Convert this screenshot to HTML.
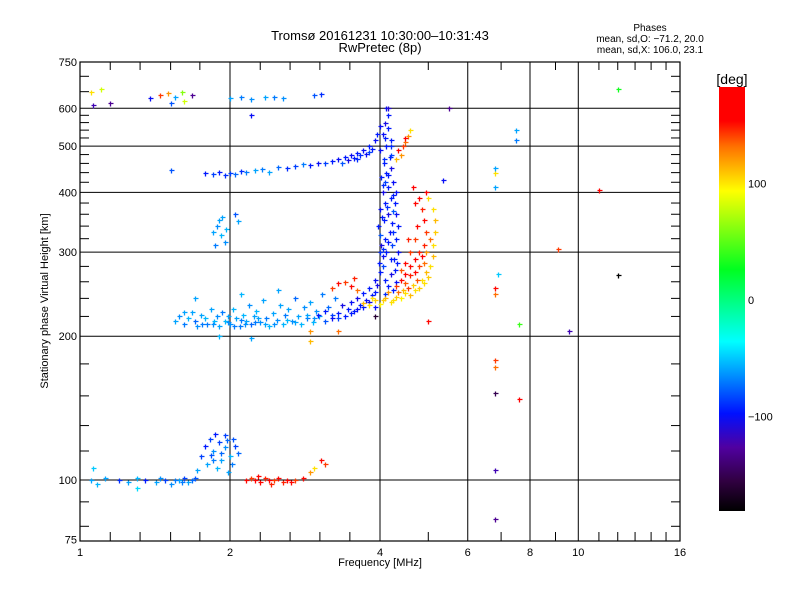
<!DOCTYPE html>
<html><head><meta charset="utf-8"><style>
body{margin:0;background:#fff}
svg{display:block;font-family:"Liberation Sans",sans-serif}
</style></head><body>
<svg id="c" width="800" height="600" viewBox="0 0 800 600">
<defs><linearGradient id="cb" x1="0" y1="0" x2="0" y2="1">
<stop offset="0" stop-color="#ff0000"/><stop offset="0.08" stop-color="#ff0000"/>
<stop offset="0.14" stop-color="#ff7000"/><stop offset="0.245" stop-color="#ffff00"/>
<stop offset="0.43" stop-color="#00ff20"/><stop offset="0.6" stop-color="#00ffff"/>
<stop offset="0.68" stop-color="#0090ff"/><stop offset="0.77" stop-color="#0010ff"/>
<stop offset="0.85" stop-color="#5000a0"/><stop offset="0.93" stop-color="#300040"/>
<stop offset="1" stop-color="#000000"/></linearGradient></defs>
<text x="380" y="40" font-size="13" text-anchor="middle">Tromsø 20161231 10:30:00–10:31:43</text>
<text x="380" y="52" font-size="13" text-anchor="middle">RwPretec (8p)</text>
<text x="650" y="31" font-size="10" text-anchor="middle">Phases</text>
<text x="650" y="42" font-size="10" text-anchor="middle">mean, sd,O: −71.2, 20.0</text>
<text x="650" y="53" font-size="10" text-anchor="middle">mean, sd,X: 106.0, 23.1</text>
<text x="380" y="566" font-size="11" text-anchor="middle">Frequency [MHz]</text>
<text transform="translate(48,301) rotate(-90)" font-size="11" text-anchor="middle">Stationary phase Virtual Height [km]</text>
<rect x="719" y="87" width="26" height="424" fill="url(#cb)"/>
<text x="732" y="84" font-size="14" text-anchor="middle">[deg]</text>
<g id="grid"></g><g id="pts"></g>
<rect x="80" y="62" width="600" height="479" fill="none" stroke="#000" stroke-width="1.2"/>
</svg>
<script>
const xTickLabels=[1,2,4,6,8,10,16];
const yTickLabels=[75,100,200,300,400,500,600,750];
const yGrid=[100,200,300,400,500,600];
const xGrid=[2,4,6,8,10];
const yMinor=[80,90,115,130,150,175,220,240,260,280,320,340,360,380,420,440,460,480,520,540,560,580,650,700];
const xMinor=[1.15,1.32,1.52,1.74,2.3,2.64,3.03,3.48,5,7,9,11,12,13,14,15];
const cbLabels=[100,0,-100];
// [freq MHz, height km, phase deg]
const eLayerO=[[1.05,100,-60],[1.08,98,-55],[1.12,101,-60],[1.2,100,-90],[1.25,99,-60],[1.3,101,-55],[1.35,100,-95],[1.42,99,-60],[1.48,100,-85],[1.52,98,-65],[1.58,100,-60],[1.62,101,-85],[1.65,99,-60],[1.72,105,-60],[1.75,112,-85],[1.78,118,-95],[1.8,108,-60],[1.82,122,-85],[1.85,115,-65],[1.88,106,-55],[1.9,120,-85],[1.92,110,-60],[1.95,117,-65],[1.98,104,-60],[2.0,112,-55],[2.02,108,-70],[2.05,118,-85],[1.87,125,-95],[1.95,124,-85],[1.7,101,-80],[1.6,99,-70],[1.06,106,-50],[1.3,96,-45],[1.83,113,-80],[1.97,121,-75],[2.08,114,-75],[1.55,100,-70],[1.45,101,-65],[1.68,100,-75],[1.85,110,-70],[1.92,114,-75],[2.03,122,-80]];
const eLayerX=[[2.15,100,150],[2.2,101,140],[2.25,100,160],[2.3,99,150],[2.35,101,145],[2.4,100,155],[2.45,100,140],[2.5,101,150],[2.55,99,145],[2.6,100,160],[2.7,100,140],[2.8,101,150],[2.9,104,120],[2.95,106,100],[3.05,110,150],[3.1,108,140],[2.28,102,150],[2.42,98,145],[2.65,99,150]];
const lowerCyan=[[1.55,215,-60],[1.58,220,-65],[1.62,212,-70],[1.65,218,-55],[1.68,225,-60],[1.7,215,-75],[1.72,210,-65],[1.75,222,-60],[1.78,218,-55],[1.8,212,-70],[1.83,228,-60],[1.86,215,-55],[1.88,220,-65],[1.9,210,-60],[1.93,225,-70],[1.95,215,-55],[1.98,220,-60],[2.0,212,-65],[2.03,228,-55],[2.06,218,-60],[2.09,210,-70],[2.12,222,-55],[2.15,215,-60],[2.18,232,-65],[2.2,212,-75],[2.23,220,-60],[2.26,226,-55],[2.3,214,-65],[2.33,238,-60],[2.36,218,-70],[2.4,210,-55],[2.44,224,-60],[2.48,216,-65],[2.52,232,-60],[2.55,212,-55],[2.58,222,-70],[2.62,228,-60],[2.66,215,-65],[2.7,240,-75],[2.74,220,-60],[2.78,212,-55],[2.82,230,-65],[2.86,218,-70],[2.9,236,-60],[2.94,214,-55],[2.98,226,-65],[3.02,220,-60],[3.06,245,-70],[3.1,215,-80],[3.15,230,-75],[3.2,222,-85],[3.25,240,-70],[3.3,218,-85],[1.7,240,-60],[2.1,245,-55],[2.5,250,-60],[1.9,200,-55],[2.2,198,-60],[1.62,225,-60],[1.85,212,-65],[2.1,216,-70],[2.35,212,-60],[2.6,216,-55],[2.85,222,-60],[1.98,214,-65],[2.04,210,-70],[2.14,212,-65],[2.24,214,-70],[2.45,212,-65],[2.7,214,-60],[2.95,218,-65],[1.76,212,-70],[2.28,218,-60]];
const lowerO=[[3.0,222,-95],[3.1,226,-95],[3.2,218,-100],[3.3,224,-95],[3.35,232,-105],[3.4,220,-95],[3.45,228,-95],[3.5,236,-100],[3.55,226,-95],[3.6,240,-105],[3.65,232,-95],[3.7,246,-95],[3.75,238,-100],[3.8,252,-95],[3.85,244,-95],[3.9,262,-100],[3.95,256,-105],[4.0,272,-95],[3.98,285,-95],[4.05,295,-100],[4.12,300,-95],[4.2,290,-95],[4.02,310,-105],[4.1,320,-95],[4.18,330,-100],[3.97,340,-95],[4.08,350,-95],[4.15,360,-105],[4.22,345,-95],[4.0,370,-100],[4.1,380,-95],[4.2,390,-95],[4.05,400,-105],[4.15,410,-95],[4.25,420,-100],[4.02,430,-95],[4.12,440,-95],[4.2,450,-105],[4.08,460,-95],[4.18,475,-95],[4.0,490,-100],[4.12,500,-95],[4.2,515,-95],[4.05,530,-100],[4.15,545,-95],[4.1,560,-105],[4.15,580,-95],[4.12,600,-100],[4.25,250,-95],[4.3,260,-100],[4.28,275,-95],[4.1,262,-95],[4.2,270,-105],[4.15,255,-95],[4.32,285,-95],[4.35,300,-100],[4.3,320,-95],[4.35,340,-95],[4.3,360,-100],[4.28,380,-95],[4.3,400,-100],[4.05,280,-85],[4.22,310,-85],[4.0,325,-80],[4.25,365,-80],[4.1,420,-85],[4.2,480,-85],[3.9,230,-100],[3.8,236,-105],[4.06,305,-90],[4.16,315,-95],[4.24,330,-90],[4.04,355,-95],[4.14,372,-90],[4.24,395,-95],[4.06,415,-90],[4.16,435,-95],[4.08,470,-90],[4.2,500,-90],[4.1,520,-95],[4.0,300,-90],[4.26,290,-95],[3.7,230,-95],[3.6,228,-100],[3.5,224,-95],[3.9,248,-95],[4.1,245,-90]];
const lowerX=[[3.7,235,110],[3.8,232,100],[3.9,238,105],[4.0,234,95],[4.1,240,110],[4.2,236,100],[4.3,242,105],[4.4,240,95],[4.5,246,100],[4.6,244,110],[4.7,250,100],[4.8,252,105],[4.9,258,100],[5.0,266,105],[5.05,280,100],[5.1,295,110],[5.12,310,100],[5.15,330,105],[5.15,350,110],[5.1,370,100],[5.0,390,100],[4.3,255,140],[4.4,262,150],[4.5,258,135],[4.6,268,145],[4.7,272,150],[4.8,280,140],[4.85,295,155],[4.9,310,145],[4.95,330,140],[4.9,350,150],[4.85,370,145],[4.8,390,160],[4.7,380,150],[4.6,300,140],[4.5,285,150],[4.4,275,135],[4.55,320,145],[4.75,340,150],[4.95,400,170],[4.65,410,160],[4.7,290,170],[4.5,270,175],[3.4,260,140],[3.5,255,150],[3.55,265,145],[3.6,250,130],[3.3,258,150],[3.2,252,140],[4.15,248,120],[4.25,238,100],[4.45,250,110],[4.65,256,105],[4.85,262,100],[4.95,272,110],[4.35,248,130],[4.55,252,140],[4.75,262,135],[4.6,280,150],[4.8,300,145],[4.7,320,140],[4.9,285,130],[3.85,240,100],[4.05,238,105],[4.95,300,120],[5.05,320,130]];
const upperO=[[1.52,445,-80],[1.78,440,-95],[1.85,438,-85],[1.9,442,-95],[1.95,436,-90],[2.0,440,-85],[2.05,438,-75],[2.1,444,-90],[2.15,442,-70],[2.25,446,-60],[2.32,448,-70],[2.4,442,-60],[2.5,452,-75],[2.6,450,-90],[2.7,454,-85],[2.8,458,-70],[2.9,456,-95],[3.0,462,-100],[3.1,460,-85],[3.2,466,-95],[3.3,470,-100],[3.4,474,-95],[3.5,478,-100],[3.6,484,-95],[3.7,490,-100],[3.8,500,-95],[3.9,515,-100],[3.95,530,-95],[4.0,550,-100],[3.45,468,-105],[3.55,472,-95],[3.65,478,-90],[3.75,482,-100],[3.85,492,-95],[3.35,462,-80],[3.6,470,-90],[3.8,485,-85]];
const upperX=[[4.3,470,110],[4.4,480,120],[4.45,500,140],[4.5,510,130],[4.55,525,120],[4.6,540,100],[4.35,490,150],[4.5,520,160]];
const midCluster=[[1.85,330,-60],[1.88,340,-65],[1.9,350,-60],[1.92,325,-55],[1.95,315,-65],[1.87,310,-70],[1.93,355,-60],[1.96,335,-55],[2.05,360,-80],[2.08,348,-60]];
const topScatter=[[1.05,650,100],[1.06,610,-120],[1.1,660,80],[1.15,615,-130],[1.38,630,-100],[1.45,640,140],[1.5,645,120],[1.52,615,-80],[1.55,635,-60],[1.6,650,60],[1.62,620,80],[1.68,640,-130],[2.0,630,-60],[2.1,632,-70],[2.2,628,-65],[2.35,635,-60],[2.45,632,-70],[2.55,630,-65],[2.95,640,-80],[3.05,642,-90],[2.2,580,-100],[4.15,600,-110],[5.5,602,-130]];
const sparse=[[6.8,450,-60],[6.8,440,100],[6.8,410,-60],[6.8,252,150],[6.8,245,130],[6.8,178,140],[6.8,172,130],[6.8,152,-150],[6.8,105,-120],[6.8,83,-130],[7.6,148,170],[7.5,540,-60],[7.5,515,-70],[7.6,212,40],[9.1,305,140],[9.6,205,-120],[11.0,405,170],[12.0,268,-180],[12.0,660,30],[5.35,425,-100],[5.0,215,150],[3.9,220,-160],[6.9,270,-50],[2.9,205,120],[2.9,195,110],[3.3,205,130]];

const NS='http://www.w3.org/2000/svg';
function xs(f){return 80+150*Math.log2(f);}
function ys(h){return 480-477.7*Math.log10(h/100);}
const stops=[[0,[255,0,0]],[0.08,[255,0,0]],[0.14,[255,112,0]],[0.245,[255,255,0]],[0.43,[0,255,32]],[0.6,[0,255,255]],[0.68,[0,144,255]],[0.77,[0,16,255]],[0.85,[80,0,160]],[0.93,[48,0,64]],[1,[0,0,0]]];
function col(p){const t=Math.min(1,Math.max(0,(180-p)/360));for(let i=1;i<stops.length;i++){if(t<=stops[i][0]){const a=stops[i-1],b=stops[i];const u=(t-a[0])/((b[0]-a[0])||1);return 'rgb('+a[1].map((v,k)=>Math.round(v+(b[1][k]-v)*u)).join(',')+')';}}return '#000';}
function mk(tag,at,parent){const e=document.createElementNS(NS,tag);for(const k in at)e.setAttribute(k,at[k]);parent.appendChild(e);return e;}
const g=document.getElementById('grid'),P=document.getElementById('pts');
yGrid.forEach(h=>{const l=mk('line',{x1:80,x2:680,y1:ys(h),y2:ys(h),stroke:'#000','stroke-width':1},g);

});
xGrid.forEach(f=>{const l=mk('line',{y1:62,y2:541,x1:xs(f),x2:xs(f),stroke:'#000','stroke-width':1},g);

});
yMinor.forEach(h=>{const y=ys(h);
const a=mk('line',{x1:80,x2:89,y1:y,y2:y,stroke:'#000'},g);


const b=mk('line',{x1:671,x2:680,y1:y,y2:y,stroke:'#000'},g);

});
xMinor.forEach(f=>{const x=xs(f);
const a=mk('line',{x1:x,x2:x,y1:532,y2:541,stroke:'#000'},g);


const b=mk('line',{x1:x,x2:x,y1:62,y2:70,stroke:'#000'},g);

});
xTickLabels.forEach(f=>{const t=mk('text',{x:xs(f),y:556,'font-size':11,'text-anchor':'middle'},g);t.textContent=f;

});
yTickLabels.forEach(h=>{const t=mk('text',{x:77,y:ys(h)+4,'font-size':11,'text-anchor':'end'},g);t.textContent=h;

});
cbLabels.forEach(p=>{const t=mk('text',{x:748,y:300-1.165*p+4,'font-size':11},g);t.textContent=p==-100?'−100':p;

});
[['e-layer-o',eLayerO],['e-layer-x',eLayerX],['lower-trace-cyan',lowerCyan],['lower-trace-o',lowerO],['lower-trace-x',lowerX],['upper-trace-o',upperO],['upper-trace-x',upperX],['mid-cluster',midCluster],['top-scatter',topScatter],['sparse-echo',sparse]].forEach(([nm,arr])=>{
arr.forEach(d=>{const x=Math.round(xs(d[0]))+0.5,y=Math.round(ys(d[1]))+0.5,c=col(d[2]);
const p=mk('path',{d:`M${x-2},${y}H${x+3}M${x},${y-2}V${y+3}`,stroke:c,'stroke-width':1.3,fill:'none'},P);

});});
</script>
</body></html>
